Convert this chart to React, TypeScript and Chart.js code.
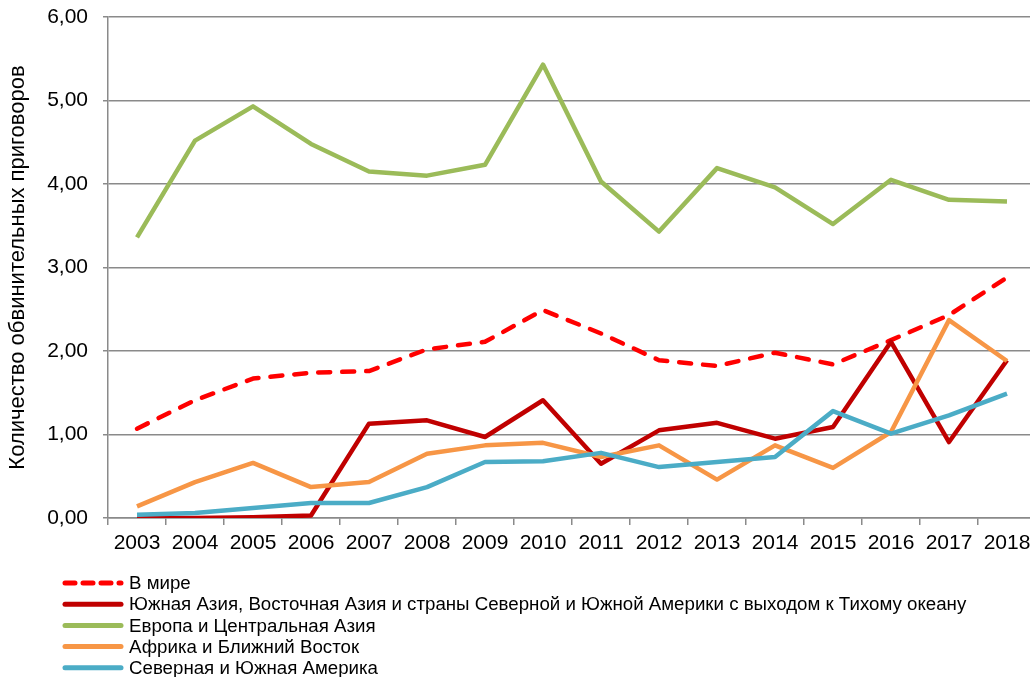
import React, { useEffect, useRef } from "react";
import { Chart, registerables } from "chart.js";

Chart.register(...registerables);

const years = ["2003", "2004", "2005", "2006", "2007", "2008", "2009", "2010", "2011", "2012", "2013", "2014", "2015", "2016", "2017", "2018"];

const seriesNames = [
  "В мире",
  "Южная Азия, Восточная Азия и страны Северной и Южной Америки с выходом к Тихому океану",
  "Европа и Центральная Азия",
  "Африка и Ближний Восток",
  "Северная и Южная Америка",
];

const worldValues = [1.07, 1.41, 1.67, 1.74, 1.76, 2.02, 2.11, 2.49, 2.21, 1.89, 1.82, 1.98, 1.84, 2.13, 2.43, 2.88];
const asiaPacificValues = [0.0, 0.0, 0.01, 0.03, 1.13, 1.17, 0.97, 1.41, 0.65, 1.05, 1.14, 0.95, 1.09, 2.11, 0.91, 1.89];
const europeValues = [3.36, 4.52, 4.93, 4.48, 4.15, 4.1, 4.23, 5.43, 4.03, 3.43, 4.19, 3.96, 3.52, 4.05, 3.81, 3.79];
const africaValues = [0.14, 0.43, 0.66, 0.37, 0.43, 0.77, 0.87, 0.9, 0.73, 0.87, 0.46, 0.87, 0.6, 1.03, 2.37, 1.88];
const americasValues = [0.04, 0.06, 0.12, 0.18, 0.18, 0.37, 0.67, 0.68, 0.78, 0.61, 0.67, 0.73, 1.28, 1.01, 1.23, 1.49];

const yTickValues = [0, 1, 2, 3, 4, 5, 6];
const yAxisTitle = "Количество обвинительных приговоров";

const FONT = "'Liberation Sans', Arial, sans-serif";
const GRID = "#8a8a8a";

const legendPlugin = {
  id: "verticalLegend",
  afterDraw(chart: any) {
    const ctx = chart.ctx;
    ctx.save();
    chart.data.datasets.forEach((ds: any, i: number) => {
      const y = 583 + i * 21.2;
      ctx.beginPath();
      ctx.strokeStyle = ds.borderColor;
      ctx.lineWidth = 5;
      ctx.lineCap = "round";
      ctx.setLineDash(ds.borderDash ? [10, 8] : []);
      ctx.moveTo(65, y);
      ctx.lineTo(121, y);
      ctx.stroke();
      ctx.setLineDash([]);
      ctx.fillStyle = "#000";
      ctx.font = `18.7px ${FONT}`;
      ctx.textBaseline = "middle";
      ctx.textAlign = "left";
      ctx.fillText(ds.label, 129, y + 1);
    });
    ctx.restore();
  },
};

export default function App() {
  const canvasRef = useRef<HTMLCanvasElement | null>(null);

  useEffect(() => {
    if (!canvasRef.current) return;
    const mk = (label: string, data: number[], color: string, order: number, dashed = false) => ({
      label,
      data,
      borderColor: color,
      backgroundColor: color,
      borderWidth: 4.5,
      borderDash: dashed ? [12, 12] : undefined,
      borderCapStyle: dashed ? "round" : "butt",
      borderJoinStyle: "round",
      pointRadius: 0,
      tension: 0,
      fill: false,
      order,
    });
    const chart = new Chart(canvasRef.current, {
      type: "line",
      data: {
        labels: years,
        datasets: [
          mk(seriesNames[0], worldValues, "#ff0000", 4, true),
          mk(seriesNames[1], asiaPacificValues, "#c00000", 3),
          mk(seriesNames[2], europeValues, "#9bbb59", 2),
          mk(seriesNames[3], africaValues, "#f79646", 1),
          mk(seriesNames[4], americasValues, "#4bacc6", 0),
        ] as any,
      },
      options: {
        animation: false,
        responsive: true,
        maintainAspectRatio: false,
        layout: { padding: { left: 0, right: 4, top: 17, bottom: 119 } },
        plugins: {
          legend: { display: false },
          tooltip: { enabled: false },
        },
        scales: {
          x: {
            type: "category",
            offset: true,
            grid: {
              offset: true,
              drawOnChartArea: false,
              drawTicks: true,
              tickLength: 7,
              color: GRID,
              lineWidth: 1.5,
            },
            border: { display: true, color: GRID, width: 1.5 },
            ticks: {
              autoSkip: false,
              maxRotation: 0,
              minRotation: 0,
              padding: 6,
              color: "#000",
              font: { family: FONT, size: 21 },
            },
            afterFit: (s: any) => {
              s.height = 40;
              s.paddingLeft = 0;
              s.paddingRight = 0;
            },
          },
          y: {
            min: 0,
            max: 6,
            afterBuildTicks: (s: any) => {
              s.ticks = yTickValues.map((v) => ({ value: v }));
            },
            grid: {
              color: GRID,
              lineWidth: 1.5,
              tickLength: 5,
            },
            border: { display: true, color: GRID, width: 1.5 },
            ticks: {
              padding: 15,
              color: "#000",
              font: { family: FONT, size: 21 },
              callback: (v: any) => Number(v).toFixed(2).replace(".", ","),
            },
            title: {
              display: true,
              text: yAxisTitle,
              color: "#000",
              font: { family: FONT, size: 22 },
              padding: { top: 5, bottom: 0 },
            },
            afterFit: (s: any) => {
              s.width = 108;
              s.paddingTop = 0;
              s.paddingBottom = 0;
            },
          },
        },
      },
      plugins: [legendPlugin],
    });
    return () => chart.destroy();
  }, []);

  return (
    <div style={{ position: "fixed", left: 0, top: 0, width: 1030, height: 677, overflow: "hidden", background: "#fff" }}>
      <div style={{ position: "relative", width: 1040, height: 677 }}>
        <canvas ref={canvasRef} />
      </div>
    </div>
  );
}
